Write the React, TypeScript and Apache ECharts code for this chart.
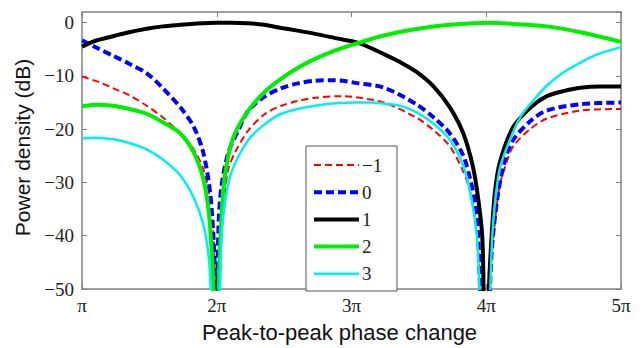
import React, { useEffect, useRef } from 'react';
import * as echarts from 'echarts';

// x values are in units of pi (peak-to-peak phase change), y in dB
const xTickLabels = ['π', '2π', '3π', '4π', '5π'];
const orderNames = ['−1', '0', '1', '2', '3'];

const orderMinus1: [number, number][] = [
  [1.0, -10.1], [1.13, -11.2], [1.23, -12.3], [1.35, -13.6], [1.48, -15.6], [1.6, -17.8],
  [1.73, -20.8], [1.83, -23.8], [1.9, -27.5], [1.95, -33], [1.98, -42], [2.0, -80],
  [2.03, -42], [2.06, -32], [2.086, -27.5], [2.135, -24.4], [2.235, -20.2], [2.36, -17.1],
  [2.48, -15.6], [2.6, -14.7], [2.73, -14.1], [2.93, -13.8], [3.03, -14], [3.24, -15],
  [3.48, -17.8], [3.61, -20.2], [3.73, -23.2], [3.83, -28], [3.88, -31.7], [3.92, -37.2],
  [3.94, -41.5], [3.95, -50], [3.99, -80], [4.04, -45], [4.065, -37.2], [4.1, -30.5],
  [4.15, -26.3], [4.2, -23.2], [4.33, -19.9], [4.45, -18], [4.7, -16.5], [5.0, -16.2],
];

const order0: [number, number][] = [
  [1.0, -3.3], [1.1, -4.6], [1.23, -6.2], [1.35, -7.7], [1.48, -9.5], [1.6, -12.3],
  [1.73, -15.9], [1.83, -19.6], [1.9, -24.4], [1.95, -31.7], [1.975, -40], [1.99, -50],
  [2.0, -80], [2.008, -45], [2.015, -37], [2.036, -30.5], [2.086, -24.4], [2.16, -20.2],
  [2.235, -16.5], [2.36, -13.8], [2.48, -12.3], [2.6, -11.4], [2.73, -10.9], [2.85, -10.8],
  [2.93, -10.9], [3.03, -11.3], [3.24, -12.2], [3.48, -15.3], [3.61, -17.8], [3.73, -20.8],
  [3.83, -25], [3.88, -29.3], [3.92, -34], [3.94, -40], [3.954, -50], [4.0, -80],
  [4.03, -48], [4.05, -40], [4.09, -31.7], [4.14, -25.7], [4.2, -22], [4.33, -18.4],
  [4.45, -16.5], [4.7, -15.3], [5.0, -15],
];

const order1: [number, number][] = [
  [1.0, -4.5], [1.1, -3.4], [1.23, -2.55], [1.35, -1.8], [1.48, -1.15], [1.6, -0.7],
  [1.73, -0.4], [1.85, -0.15], [2.0, 0], [2.1, 0], [2.23, -0.1], [2.35, -0.4],
  [2.48, -1.0], [2.6, -1.5], [2.73, -2.1], [2.88, -2.9], [3.05, -3.8], [3.24, -5.9],
  [3.36, -7.4], [3.48, -9.2], [3.61, -12], [3.73, -15.9], [3.83, -20.8], [3.9, -26.9],
  [3.94, -33], [3.97, -40], [3.98, -50], [4.0, -80], [4.02, -50], [4.04, -40],
  [4.065, -31.7], [4.1, -26.3], [4.2, -19.6], [4.33, -15.9], [4.45, -13.8], [4.58, -12.8],
  [4.7, -12.2], [4.85, -12], [5.0, -12],
];

const order2: [number, number][] = [
  [1.0, -15.7], [1.1, -15.4], [1.23, -15.6], [1.35, -16.2], [1.48, -17.1], [1.6, -18.7],
  [1.73, -20.8], [1.83, -24.4], [1.9, -29.3], [1.94, -35.4], [1.965, -43.9], [1.975, -50],
  [2.0, -80], [2.015, -50], [2.025, -42], [2.05, -31], [2.086, -25], [2.135, -20.8],
  [2.235, -16.5], [2.36, -12.9], [2.48, -10.5], [2.6, -8.5], [2.73, -6.8], [2.88, -5.2],
  [3.05, -3.8], [3.24, -2.4], [3.48, -1.2], [3.73, -0.4], [3.9, -0.1], [4.03, 0],
  [4.2, -0.25], [4.45, -0.7], [4.7, -1.8], [5.0, -3.6],
];

const order3: [number, number][] = [
  [1.0, -21.7], [1.1, -21.6], [1.23, -21.9], [1.35, -22.6], [1.48, -23.8], [1.6, -25.7],
  [1.73, -28.7], [1.83, -32.9], [1.9, -37.8], [1.94, -43.9], [1.955, -50], [1.99, -80],
  [2.025, -50], [2.036, -40], [2.06, -34], [2.11, -28], [2.235, -22], [2.36, -19],
  [2.48, -17.1], [2.73, -15.6], [3.03, -15], [3.14, -15], [3.24, -15.2], [3.36, -15.6],
  [3.48, -16.8], [3.61, -19], [3.73, -22], [3.83, -26.9], [3.89, -33], [3.93, -40],
  [3.95, -50], [3.99, -80], [4.03, -50], [4.05, -38], [4.1, -27.5], [4.2, -20.5],
  [4.26, -17.4], [4.33, -15.2], [4.45, -11.8], [4.57, -9.4], [4.7, -7.5], [4.82, -6],
  [5.0, -4.6],
];

const seriesData = [orderMinus1, order0, order1, order2, order3];
const seriesColors = ['#ff0000', '#0000ff', '#000000', '#00ee00', '#00f0f0'];
const seriesWidths = [2, 4, 4, 4, 2.5];
const seriesDash: (number[] | null)[] = [[7, 4], [8, 4], null, null, null];

const fmtY = (v: number) => (v > 0 ? '' : v < 0 ? '\u2212' + Math.abs(v) : '0');

export default function App() {
  const ref = useRef<HTMLDivElement>(null);
  useEffect(() => {
    const chart = echarts.init(ref.current!, null, { renderer: 'svg' });
    const axisLineStyle = { color: '#808080', width: 1.5 };
    const tickStyle = { inside: true, length: 5, lineStyle: { color: '#808080', width: 1 } };
    const serif = "'Times New Roman', 'Liberation Serif', serif";
    const sans = "Arial, 'Liberation Sans', sans-serif";

    // legend drawn as graphics
    const lgX = 306, lgY = 146, lgW = 91, lgH = 145;
    const legendEls: any[] = [
      {
        type: 'rect', shape: { x: lgX, y: lgY, width: lgW, height: lgH },
        style: { fill: '#fff', stroke: '#555', lineWidth: 1 }, z: 100,
      },
    ];
    orderNames.forEach((name, i) => {
      const cy = 165 + i * 27.2;
      legendEls.push({
        type: 'line', shape: { x1: 314, y1: cy, x2: 359, y2: cy },
        style: {
          stroke: seriesColors[i], lineWidth: seriesWidths[i],
          lineDash: seriesDash[i] || undefined,
        }, z: 101,
      });
      legendEls.push({
        type: 'text', x: 362, y: cy,
        style: {
          text: name, font: `19px ${serif}`, fill: '#222',
          verticalAlign: 'middle', align: 'left',
        },
        z: 101,
      });
    });

    chart.setOption({
      animation: false,
      backgroundColor: '#fff',
      grid: { left: 82, right: 23, top: 12, bottom: 51, containLabel: false },
      xAxis: [
        {
          type: 'value', min: 1, max: 5, interval: 1, position: 'bottom',
          axisLine: { onZero: false, lineStyle: axisLineStyle }, axisTick: tickStyle,
          splitLine: { show: false },
          axisLabel: {
            formatter: (v: number) => xTickLabels[Math.round(v) - 1] || '',
            fontFamily: serif, fontSize: 19, color: '#222', margin: 7,
          },
          name: 'Peak-to-peak phase change', nameLocation: 'middle', nameGap: 32,
          nameTextStyle: { fontFamily: sans, fontSize: 22, color: '#111', padding: [0, 24, 0, 0] },
        },
        {
          type: 'value', min: 1, max: 5, interval: 1, position: 'top',
          axisLine: { onZero: false, lineStyle: axisLineStyle }, axisTick: tickStyle,
          splitLine: { show: false },
          axisLabel: { show: false },
        },
      ],
      yAxis: [
        {
          type: 'value', min: -50, max: 2, interval: 10, position: 'left',
          axisLine: { show: true, onZero: false, lineStyle: axisLineStyle },
          axisTick: { show: true, ...tickStyle },
          splitLine: { show: false },
          axisLabel: {
            formatter: fmtY, fontFamily: serif, fontSize: 19, color: '#222', margin: 8,
            showMaxLabel: false,
          },
          name: 'Power density (dB)', nameLocation: 'middle', nameGap: 47,
          nameTextStyle: { fontFamily: sans, fontSize: 21, color: '#111', padding: [0, 0, 0, 6] },
        },
        {
          type: 'value', min: -50, max: 2, interval: 10, position: 'right',
          axisLine: { show: true, onZero: false, lineStyle: axisLineStyle },
          axisTick: { show: true, ...tickStyle },
          splitLine: { show: false }, axisLabel: { show: false },
        },
      ],
      series: seriesData.map((d, i) => ({
        type: 'line', name: orderNames[i], data: d, showSymbol: false, symbol: 'none',
        clip: true, smooth: 0.3, xAxisIndex: 0, yAxisIndex: 0,
        lineStyle: {
          color: seriesColors[i], width: seriesWidths[i],
          type: seriesDash[i] || 'solid',
        },
        itemStyle: { color: seriesColors[i] },
      })),
      graphic: legendEls,
    });
    return () => chart.dispose();
  }, []);
  return (
    <div
      ref={ref}
      style={{ position: 'fixed', left: 0, top: 0, width: 644, height: 348, background: '#fff' }}
    />
  );
}
